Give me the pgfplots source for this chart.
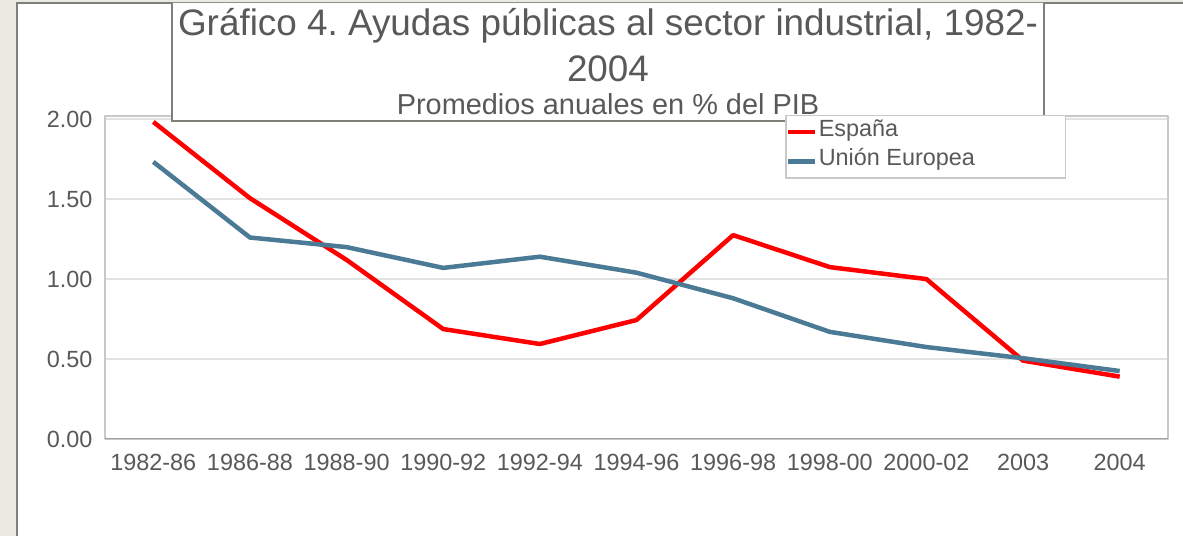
\documentclass[border=0pt]{standalone}
\usepackage{fontspec}
\setmainfont{Liberation Sans}
\usepackage{pgfplots}
\pgfplotsset{compat=1.18}
\frenchspacing
\definecolor{bg}{RGB}{236,233,226}
\definecolor{bordergray}{RGB}{128,128,122}
\definecolor{textc}{RGB}{89,89,89}
\definecolor{gridc}{RGB}{226,226,226}
\definecolor{framec}{RGB}{200,200,200}
\definecolor{baseaxis}{RGB}{160,160,160}
\definecolor{esp}{RGB}{255,0,0}
\definecolor{eu}{RGB}{74,122,150}
\begin{document}
\begin{tikzpicture}[x=1bp,y=1bp]
\fill[bg] (0,0) rectangle (1183,536);
\fill[white] (17,0) rectangle (1183,533);
\draw[bordergray, line width=2bp] (17,0) -- (17,533) -- (1183,533);
\begin{axis}[
  at={(105bp,97bp)}, anchor=south west,
  scale only axis, width=1063bp, height=323bp,
  xmin=-0.5, xmax=10.5, ymin=0, ymax=2.02,
  xtick={0,...,10},
  xticklabels={1982-86,1986-88,1988-90,1990-92,1992-94,1994-96,1996-98,1998-00,2000-02,2003,2004},
  ytick={0,0.5,1,1.5,2},
  yticklabel style={/pgf/number format/fixed, /pgf/number format/fixed zerofill, /pgf/number format/precision=2, /pgf/number format/assume math mode=true, xshift=-9bp},
  ymajorgrids, grid style={draw=gridc, line width=2bp},
  major tick length=0pt,
  axis line style={draw=framec, line width=1.5bp},
  tick label style={font=\fontsize{23.5}{27}\selectfont, text=textc},
  xticklabel style={yshift=-12bp},
  legend style={at={(rel axis cs:0.6397,1.0031)}, anchor=north west,
    draw=framec, line width=1.5bp, fill=white,
    font=\fontsize{23.5}{26}\selectfont, text=textc,
    inner xsep=0pt, inner ysep=2bp, row sep=0.5bp,
    nodes={inner sep=1.5bp, text height=17bp, text depth=9bp}},
  legend cell align=left,
  legend image code/.code={\draw[#1, line width=4.5bp] (0bp,0bp) -- (27bp,0bp);},
  line join=round,
]
\addplot[esp, line width=4.5bp] coordinates {
(0,1.983) (1,1.506) (2,1.12) (3,0.6875) (4,0.594) (5,0.744) (6,1.275) (7,1.075) (8,1.0) (9,0.49) (10,0.39)};
\addlegendentry{\makebox[245bp][l]{España}}
\addplot[eu, line width=4.5bp] coordinates {
(0,1.733) (1,1.26) (2,1.2) (3,1.07) (4,1.14) (5,1.04) (6,0.88) (7,0.67) (8,0.575) (9,0.505) (10,0.425)};
\addlegendentry{\makebox[245bp][l]{Unión Europea}}
\draw[baseaxis, line width=2bp] (rel axis cs:0,0) -- (rel axis cs:1,0);
\end{axis}
% title box
\fill[white] (172,415) -- (785,415) -- (785,421) -- (1044,421) -- (1044,533) -- (172,533) -- cycle;
\draw[bordergray, line width=2.5bp] (785,415) -- (172,415) -- (172,533);
\draw[bordergray, line width=2.5bp] (1044,533) -- (1044,421);
\node[anchor=base, text=textc, font=\fontsize{37}{40}\selectfont, inner sep=0pt] at (608,500) {Gráfico 4. Ayudas públicas al sector industrial, 1982-};
\node[anchor=base, text=textc, font=\fontsize{37}{40}\selectfont, inner sep=0pt] at (608,454) {2004};
\node[anchor=base, text=textc, font=\fontsize{29}{32}\selectfont, inner sep=0pt] at (608,421) {Promedios anuales en \% del PIB};
\pgfresetboundingbox
\useasboundingbox (0,0) rectangle (1183,536);
\end{tikzpicture}
\end{document}
